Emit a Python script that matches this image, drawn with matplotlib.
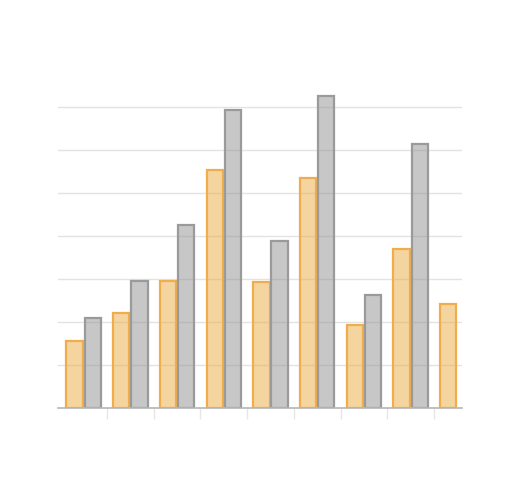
import numpy as np
import matplotlib
matplotlib.use("Agg")
from matplotlib import pyplot as plt

# values (grid step = 10)
groups = np.arange(9)
serie_orange = [15.6, 22.2, 29.5, 55.3, 29.3, 53.6, 19.3, 37.0, 24.1]
# the last group has no grey bar in the picture
serie_grise = [20.9, 29.5, 42.6, 69.4, 38.9, 72.6, 26.3, 61.3]

fig = plt.figure(figsize=(5.2, 4.94), dpi=100)
ax = fig.add_axes([58 / 520, 86 / 494, 404 / 520, 344 / 494])

largeur = 0.35
ax.bar(groups - 0.195, serie_orange, width=largeur,
       color=(235 / 255, 173 / 255, 65 / 255, 0.5),
       edgecolor="#F0AD4E", linewidth=1.6, zorder=3)
ax.bar(groups[:len(serie_grise)] + 0.195, serie_grise, width=largeur,
       color=(145 / 255, 145 / 255, 145 / 255, 0.5),
       edgecolor="#9A9A9A", linewidth=1.6, zorder=3)

ax.set_xlim(-0.55, 8.1)
ax.set_ylim(0, 80)

ax.set_yticks(np.arange(10, 80, 10))
ax.yaxis.grid(True, color="#e3e3e3", linewidth=1, zorder=1)
ax.tick_params(axis="y", length=0, labelleft=False)

ax.set_xticks(np.arange(0.5, 8, 1))
ax.tick_params(axis="x", length=8, width=1, color="#e6e6e6", labelbottom=False)

for side in ["top", "right", "left"]:
    ax.spines[side].set_visible(False)
ax.spines["bottom"].set_color("#b5b5b5")
ax.spines["bottom"].set_linewidth(1.2)
ax.spines["bottom"].set_zorder(4)

fig.savefig("out.png", dpi=100)
